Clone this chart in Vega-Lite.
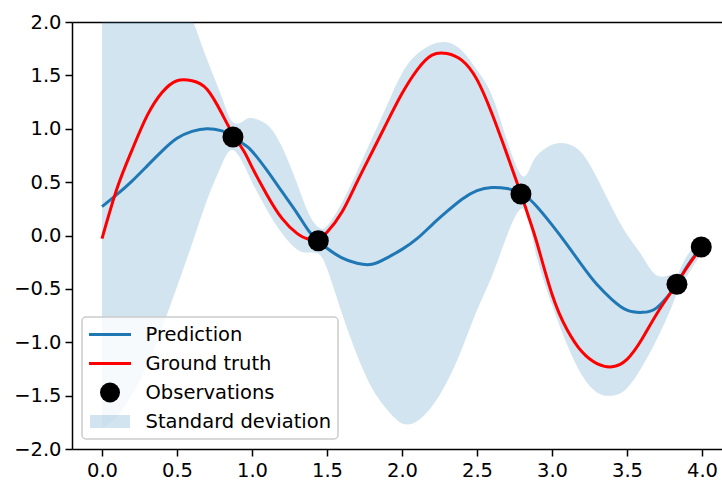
{
  "$schema": "https://vega.github.io/schema/vega-lite/v6.json",
  "width": 650,
  "height": 427,
  "autosize": {"type": "none"},
  "padding": {"left": 72, "top": 22, "right": 0, "bottom": 32},
  "background": "white",
  "config": {
    "view": {"stroke": null},
    "font": "DejaVu Sans",
    "axis": {
      "domainColor": "#000000",
      "domainWidth": 1.5,
      "tickColor": "#000000",
      "tickWidth": 1.5,
      "tickSize": 7,
      "labelFont": "DejaVu Sans",
      "labelFontSize": 19.5,
      "labelColor": "#000000",
      "grid": false,
      "title": null
    },
    "legend": {"strokeWidth": 1.5}
  },
  "datasets": {
    "curves": [
      {"x": 0.0, "truth": -0.03, "mean": 0.27, "lower": -1.80, "upper": 2.34},
      {"x": 0.1, "truth": 0.44, "mean": 0.385, "lower": -1.70, "upper": 2.50},
      {"x": 0.2, "truth": 0.80, "mean": 0.51, "lower": -1.49, "upper": 2.51},
      {"x": 0.3, "truth": 1.12, "mean": 0.65, "lower": -1.22, "upper": 2.52},
      {"x": 0.4, "truth": 1.34, "mean": 0.79, "lower": -0.87, "upper": 2.45},
      {"x": 0.5, "truth": 1.45, "mean": 0.91, "lower": -0.48, "upper": 2.30},
      {"x": 0.6, "truth": 1.45, "mean": 0.975, "lower": -0.08, "upper": 2.03},
      {"x": 0.7, "truth": 1.37, "mean": 1.0, "lower": 0.33, "upper": 1.65},
      {"x": 0.8, "truth": 1.14, "mean": 0.98, "lower": 0.67, "upper": 1.29},
      {"x": 0.873, "truth": 0.95, "mean": 0.93, "lower": 0.80, "upper": 1.06},
      {"x": 0.95, "truth": 0.78, "mean": 0.85, "lower": 0.65, "upper": 1.08},
      {"x": 1.0, "truth": 0.64, "mean": 0.79, "lower": 0.50, "upper": 1.10},
      {"x": 1.1, "truth": 0.38, "mean": 0.61, "lower": 0.24, "upper": 1.04},
      {"x": 1.2, "truth": 0.16, "mean": 0.41, "lower": 0.02, "upper": 0.83},
      {"x": 1.3, "truth": 0.02, "mean": 0.21, "lower": -0.13, "upper": 0.49},
      {"x": 1.38, "truth": -0.035, "mean": 0.04, "lower": -0.16, "upper": 0.20},
      {"x": 1.442, "truth": -0.03, "mean": -0.05, "lower": -0.17, "upper": 0.08},
      {"x": 1.5, "truth": 0.03, "mean": -0.12, "lower": -0.31, "upper": 0.09},
      {"x": 1.6, "truth": 0.22, "mean": -0.21, "lower": -0.73, "upper": 0.31},
      {"x": 1.7, "truth": 0.50, "mean": -0.26, "lower": -1.12, "upper": 0.60},
      {"x": 1.8, "truth": 0.78, "mean": -0.27, "lower": -1.43, "upper": 0.91},
      {"x": 1.9, "truth": 1.06, "mean": -0.21, "lower": -1.63, "upper": 1.22},
      {"x": 2.0, "truth": 1.33, "mean": -0.13, "lower": -1.76, "upper": 1.52},
      {"x": 2.1, "truth": 1.55, "mean": -0.03, "lower": -1.74, "upper": 1.70},
      {"x": 2.2, "truth": 1.69, "mean": 0.10, "lower": -1.60, "upper": 1.79},
      {"x": 2.3, "truth": 1.705, "mean": 0.225, "lower": -1.37, "upper": 1.81},
      {"x": 2.4, "truth": 1.64, "mean": 0.34, "lower": -1.06, "upper": 1.73},
      {"x": 2.5, "truth": 1.46, "mean": 0.42, "lower": -0.70, "upper": 1.55},
      {"x": 2.6, "truth": 1.14, "mean": 0.45, "lower": -0.38, "upper": 1.31},
      {"x": 2.7, "truth": 0.76, "mean": 0.44, "lower": 0.0, "upper": 0.89},
      {"x": 2.793, "truth": 0.39, "mean": 0.40, "lower": 0.25, "upper": 0.57},
      {"x": 2.85, "truth": 0.15, "mean": 0.34, "lower": 0.12, "upper": 0.62},
      {"x": 2.9, "truth": -0.07, "mean": 0.27, "lower": -0.21, "upper": 0.75},
      {"x": 3.0, "truth": -0.55, "mean": 0.10, "lower": -0.65, "upper": 0.85},
      {"x": 3.1, "truth": -0.88, "mean": -0.085, "lower": -1.02, "upper": 0.86},
      {"x": 3.2, "truth": -1.09, "mean": -0.28, "lower": -1.31, "upper": 0.77},
      {"x": 3.3, "truth": -1.20, "mean": -0.46, "lower": -1.47, "upper": 0.54},
      {"x": 3.4, "truth": -1.23, "mean": -0.60, "lower": -1.50, "upper": 0.26},
      {"x": 3.5, "truth": -1.16, "mean": -0.70, "lower": -1.43, "upper": 0.01},
      {"x": 3.6, "truth": -0.97, "mean": -0.72, "lower": -1.23, "upper": -0.19},
      {"x": 3.7, "truth": -0.73, "mean": -0.675, "lower": -0.97, "upper": -0.375},
      {"x": 3.8, "truth": -0.52, "mean": -0.52, "lower": -0.66, "upper": -0.37},
      {"x": 3.833, "truth": -0.45, "mean": -0.455, "lower": -0.54, "upper": -0.38},
      {"x": 3.9, "truth": -0.30, "mean": -0.29, "lower": -0.38, "upper": -0.19},
      {"x": 3.995, "truth": -0.11, "mean": -0.11, "lower": -0.17, "upper": -0.06}
    ],
    "obs": [
      {"x": 0.873, "y": 0.923},
      {"x": 1.442, "y": -0.049},
      {"x": 2.793, "y": 0.389},
      {"x": 3.833, "y": -0.457},
      {"x": 3.995, "y": -0.108}
    ]
  },
  "resolve": {"axis": {"x": "independent"}},
  "layer": [
    {
      "data": {"name": "curves"},
      "mark": {"type": "area", "interpolate": "natural", "clip": true},
      "encoding": {
        "x": {
          "field": "x", "type": "quantitative",
          "scale": {"domain": [-0.2, 4.133333], "nice": false, "zero": false},
          "axis": {"values": [0, 0.5, 1, 1.5, 2, 2.5, 3, 3.5, 4], "format": ".1f", "labelPadding": 5}
        },
        "y": {
          "field": "lower", "type": "quantitative",
          "scale": {"domain": [-2, 2], "nice": false, "zero": false},
          "axis": {"values": [-2, -1.5, -1, -0.5, 0, 0.5, 1, 1.5, 2], "format": ".1f", "labelPadding": 4}
        },
        "y2": {"field": "upper"},
        "fill": {
          "datum": "Standard deviation",
          "scale": {
            "domain": ["Prediction", "Ground truth", "Observations", "Standard deviation"],
            "range": ["transparent", "transparent", "#000000", "rgba(31,119,180,0.2)"]
          },
          "legend": {
            "orient": "bottom-left",
            "offset": 10,
            "title": null,
            "symbolSize": 400,
            "symbolStrokeWidth": 3,
            "symbolOpacity": 1,
            "symbolOffset": 10.5,
            "clipHeight": 23,
            "labelFont": "DejaVu Sans",
            "labelFontSize": 19.5,
            "labelColor": "#000000",
            "labelOffset": 24,
            "labelLimit": 0,
            "rowPadding": 6,
            "padding": 6,
            "fillColor": "rgba(255,255,255,0.8)",
            "strokeColor": "#cccccc",
            "cornerRadius": 4
          }
        }
      }
    },
    {
      "data": {"name": "curves"},
      "mark": {"type": "line", "interpolate": "natural", "strokeWidth": 3},
      "encoding": {
        "x": {
          "field": "x", "type": "quantitative",
          "axis": {"orient": "top", "labels": false, "ticks": false, "domain": true}
        },
        "y": {"field": "mean", "type": "quantitative"},
        "stroke": {
          "datum": "Prediction",
          "scale": {
            "domain": ["Prediction", "Ground truth", "Observations", "Standard deviation"],
            "range": ["#1f77b4", "#ff0000", "transparent", "transparent"]
          }
        }
      }
    },
    {
      "data": {"name": "curves"},
      "mark": {"type": "line", "interpolate": "natural", "strokeWidth": 3},
      "encoding": {
        "x": {"field": "x", "type": "quantitative", "axis": null},
        "y": {"field": "truth", "type": "quantitative"},
        "stroke": {"datum": "Ground truth"}
      }
    },
    {
      "data": {"name": "obs"},
      "mark": {"type": "point", "filled": true, "size": 441, "opacity": 1, "strokeWidth": 0},
      "encoding": {
        "x": {"field": "x", "type": "quantitative", "axis": null},
        "y": {"field": "y", "type": "quantitative"},
        "fill": {"datum": "Observations"},
        "shape": {
          "datum": "Observations",
          "scale": {
            "domain": ["Prediction", "Ground truth", "Observations", "Standard deviation"],
            "range": ["M-2.1,0H2.1", "M-2.1,0H2.1", "circle", "M-2,-0.65H2V0.65H-2Z"]
          }
        }
      }
    }
  ]
}
